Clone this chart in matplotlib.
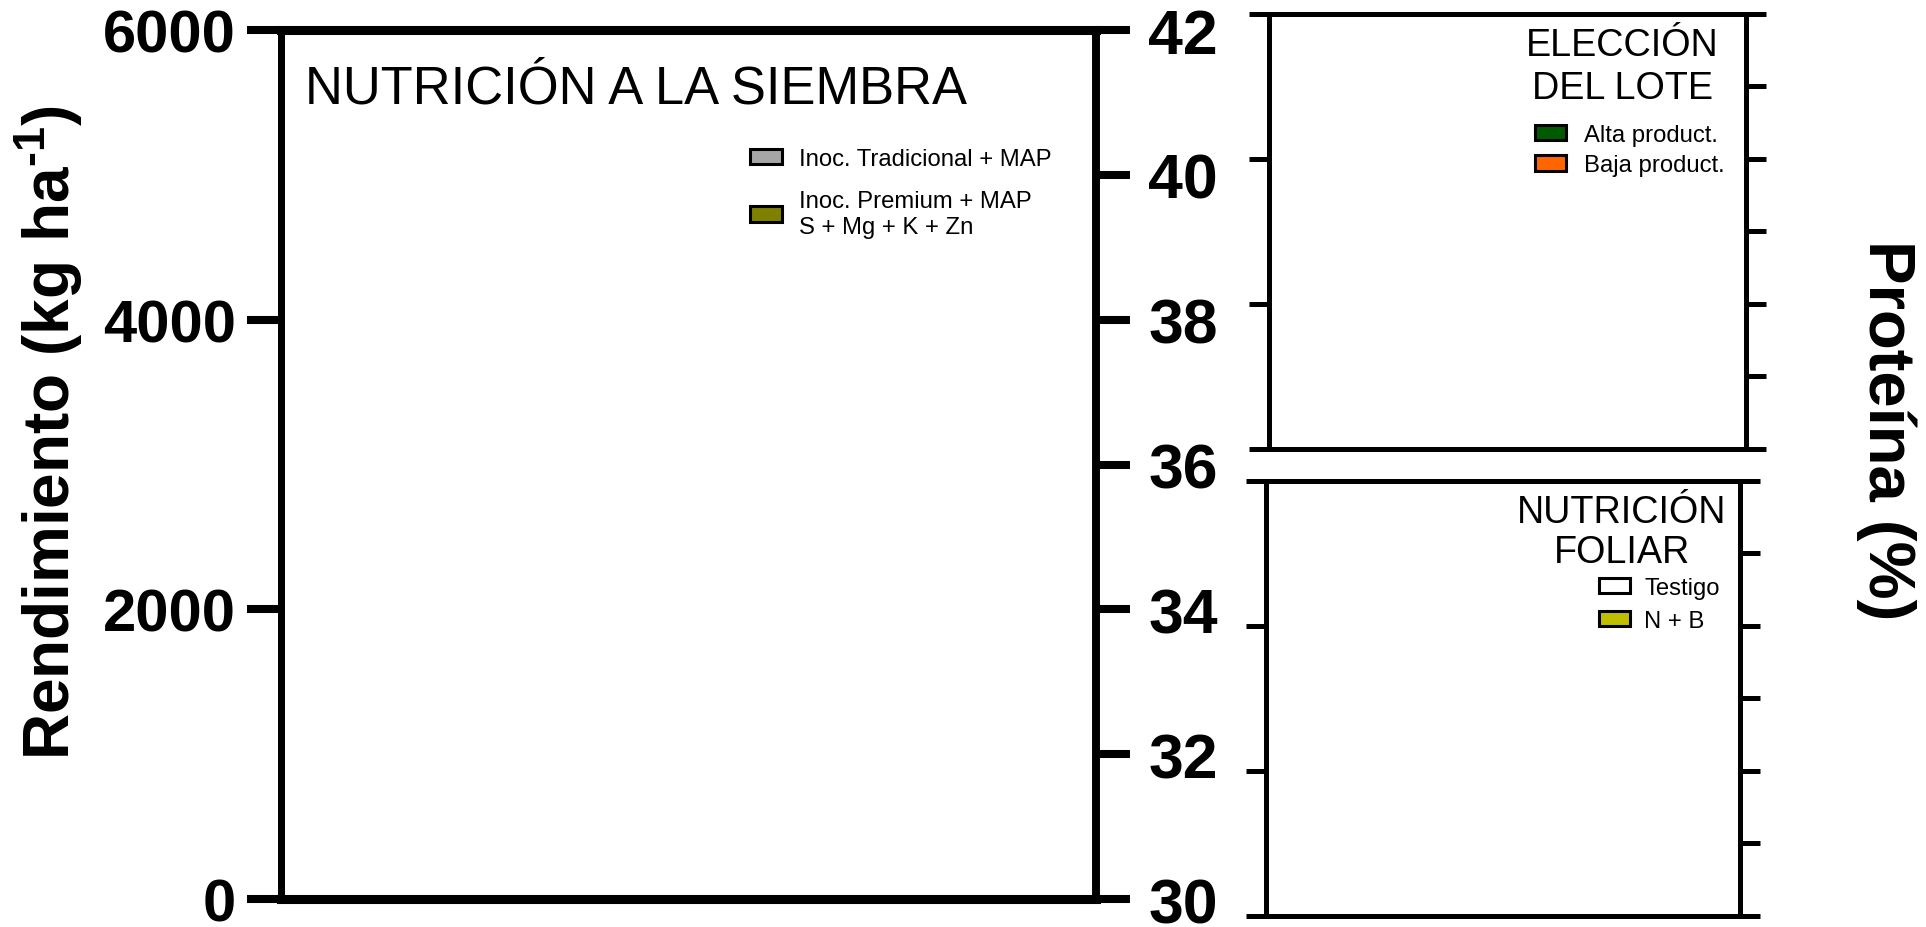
import numpy as np
import matplotlib.pyplot as plt
from matplotlib.ticker import MultipleLocator

plt.rcParams['font.family'] = ['Liberation Sans', 'DejaVu Sans']
plt.rcParams['mathtext.fontset'] = 'custom'
plt.rcParams['mathtext.rm'] = 'Liberation Sans'
plt.rcParams['mathtext.bf'] = 'Liberation Sans:bold'
plt.rcParams['mathtext.it'] = 'Liberation Sans:italic'

# --- data (no bar rises above its baseline) ---
siembra_series = ['Inoc. Tradicional + MAP', 'Inoc. Premium + MAP\nS + Mg + K + Zn']
siembra_colors = ['#A6A6A6', '#7F7F00']
siembra_rend = [0, 0]          # kg/ha

lote_series = ['Alta product.', 'Baja product.']
lote_colors = ['#005A00', '#FF6600']
lote_prot = [36, 36]           # %

foliar_series = ['Testigo', 'N + B']
foliar_colors = ['#FFFFFF', '#BFBF00']
foliar_testigo = [30, 30]      # %
foliar_nb = [30, 30]           # %

rend_ticks = [0, 2000, 4000, 6000]
prot_ticks = [30, 32, 34, 36, 38, 40, 42]

W, H = 1926, 928
fig = plt.figure(figsize=(W / 100, H / 100), dpi=100)


def box(x0, y0, x1, y1):
    # pixel box -> figure fraction
    return [x0 / W, 1 - y1 / H, (x1 - x0) / W, (y1 - y0) / H]


def style_small(ax, lo, hi):
    ax.set_ylim(lo, hi)
    ax.yaxis.set_major_locator(MultipleLocator(2))
    ax.yaxis.set_minor_locator(MultipleLocator(1))
    ax.tick_params(axis='y', which='major', left=True, right=True, length=14.4,
                   width=3.6, labelleft=False, labelright=False)
    ax.tick_params(axis='y', which='minor', left=False, right=True, length=14.4,
                   width=3.6)
    ax.tick_params(axis='x', bottom=False, labelbottom=False)
    for s in ax.spines.values():
        s.set_linewidth(3.6)
        s.set_capstyle('projecting')


# left panel: yield with protein on the right
ax = fig.add_axes(box(281, 31, 1096, 900))
axr = ax.twinx()

x = np.arange(len(siembra_series))
for i, (lab, c) in enumerate(zip(siembra_series, siembra_colors)):
    ax.bar(x[i] + 0.5, siembra_rend[i], width=0.8, color=c, edgecolor='black',
           linewidth=2.2, label=lab, zorder=1)
ax.set_xlim(0, 8)
ax.set_ylim(0, 6000)
ax.set_yticks(rend_ticks)
ax.tick_params(axis='y', length=24.5, width=5.8, pad=8, labelsize=43)
ax.tick_params(axis='x', bottom=False, labelbottom=False)
for t in ax.get_yticklabels():
    t.set_fontweight('bold')
axr.set_ylim(30, 42)
axr.set_yticks(prot_ticks)
axr.tick_params(axis='y', length=24.5, width=5.8, pad=13, labelsize=45)
for t in axr.get_yticklabels():
    t.set_fontweight('bold')
for a in (ax, axr):
    for s in a.spines.values():
        s.set_capstyle('projecting')
    a.spines['left'].set_linewidth(5.0)
    a.spines['right'].set_linewidth(5.5)
    a.spines['top'].set_linewidth(6.5)
    a.spines['bottom'].set_linewidth(6.5)

ax.text(305 / W, 1 - 104 / H, 'NUTRICIÓN A LA SIEMBRA', transform=fig.transFigure,
        fontsize=37.8, va='baseline', ha='left')
ax.legend(loc='upper left', bbox_to_anchor=(750 / W, 1 - 149 / H),
          bbox_transform=fig.transFigure, frameon=False, fontsize=17.2,
          handlelength=1.35, handleheight=0.62, handletextpad=0.7,
          labelspacing=0.85, borderpad=0, borderaxespad=0)

# top right: elección del lote
ax_lote = fig.add_axes(box(1269, 14.5, 1746, 449.5))
for i, (lab, c) in enumerate(zip(lote_series, lote_colors)):
    ax_lote.bar(1.5 + 2.7 * i, lote_prot[i] - 36, bottom=36, width=1.0, color=c,
                edgecolor='black', linewidth=2.2, label=lab, zorder=1)
ax_lote.set_xlim(0, 6.1)
style_small(ax_lote, 36, 42)
ax_lote.text(1622 / W, 1 - 99 / H, 'ELECCIÓN\nDEL LOTE', transform=fig.transFigure,
             fontsize=27.2, ha='center', va='baseline', multialignment='center',
             linespacing=1.25)
ax_lote.legend(loc='upper left', bbox_to_anchor=(1535 / W, 1 - 125 / H),
               bbox_transform=fig.transFigure, frameon=False, fontsize=17.2,
               handlelength=1.3, handleheight=0.62, handletextpad=0.75,
               labelspacing=0.35, borderpad=0, borderaxespad=0)

# bottom right: nutrición foliar
ax_fol = fig.add_axes(box(1266, 481.5, 1740, 916.5))
g = np.array([1.73, 4.44])
ax_fol.bar(g + 0.59, np.array(foliar_testigo) - 30, bottom=30, width=1.0,
           color=foliar_colors[0], edgecolor='black', linewidth=2.2,
           label=foliar_series[0], zorder=1)
ax_fol.bar(g - 0.59, np.array(foliar_nb) - 30, bottom=30, width=1.0,
           color=foliar_colors[1], edgecolor='black', linewidth=2.2,
           label=foliar_series[1], zorder=1)
ax_fol.set_xlim(0, 6.08)
style_small(ax_fol, 30, 36)
ax_fol.text(1622 / W, 1 - 563 / H, 'NUTRICIÓN\nFOLIAR', transform=fig.transFigure,
            fontsize=27.2, ha='center', va='baseline', multialignment='center',
            linespacing=1.15)
ax_fol.legend(loc='upper left', bbox_to_anchor=(1599 / W, 1 - 578 / H),
              bbox_transform=fig.transFigure, frameon=False, fontsize=17.2,
              handlelength=1.3, handleheight=0.62, handletextpad=0.6,
              labelspacing=0.45, borderpad=0, borderaxespad=0)

# axis titles
fig.text(49 / W, 1 - 433 / H, 'Rendimiento (kg ha$^{\\mathbf{‐1}}$)', rotation=90,
         fontsize=46, fontweight='bold', ha='center', va='center')
fig.text(1886 / W, 1 - 430 / H, 'Proteína (%)', rotation=270,
         fontsize=47, fontweight='bold', ha='center', va='center')

fig.savefig('out.png', dpi=100)
